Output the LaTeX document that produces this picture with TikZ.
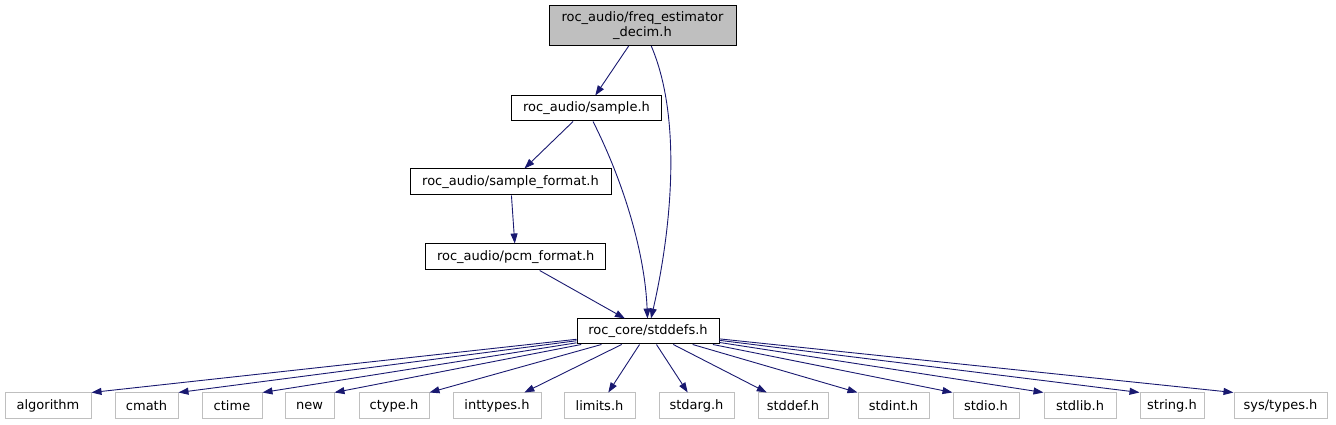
\documentclass[tikz,border=0pt]{standalone}
\usepackage{fontspec}
\setmainfont{DejaVu Sans}
\usetikzlibrary{arrows.meta}
\definecolor{edgec}{HTML}{191970}
\definecolor{greyfill}{HTML}{BFBFBF}
\definecolor{greyline}{HTML}{BFBFBF}
\tikzset{
  box/.style={draw=black, line width=1pt, inner sep=0pt, minimum height=25pt, align=center,
    font=\fontsize{13}{15}\selectfont},
  focus/.style={box, fill=greyfill, minimum height=40pt},
  ext/.style={box, draw=greyline, minimum height=26pt},
  dep/.style={draw=edgec, line width=0.9pt, -{Triangle[length=10pt,width=7pt]}},
}
\begin{document}
\begin{tikzpicture}[x=1pt,y=1pt]
\useasboundingbox (0,0) rectangle (1336,425);
\node[focus, minimum width=187pt] (freq) at (642.5,399.5) {roc\_audio/freq\_estimator\\\_decim.h};
\node[box, minimum width=150pt] (sample) at (586.5,316.5) {roc\_audio/sample.h};
\node[box, minimum width=201pt, minimum height=26pt] (sfmt) at (510.5,243) {roc\_audio/sample\_format.h};
\node[box, minimum width=180pt, minimum height=26pt] (pcm) at (515.7,168) {roc\_audio/pcm\_format.h};
\node[box, minimum width=142pt] (std) at (648,93.5) {roc\_core/stddefs.h};

\node[ext, minimum width=86pt] (alg) at (48,19) {algorithm};
\node[ext, minimum width=63pt] (cmath) at (146.5,19) {cmath};
\node[ext, minimum width=60pt] (ctime) at (232,19) {ctime};
\node[ext, minimum width=49pt] (new) at (309.5,19) {new};
\node[ext, minimum width=70pt] (ctype) at (394,19) {ctype.h};
\node[ext, minimum width=88pt] (inttypes) at (497,19) {inttypes.h};
\node[ext, minimum width=71pt] (limits) at (599.5,19) {limits.h};
\node[ext, minimum width=75pt] (stdarg) at (696.5,19) {stdarg.h};
\node[ext, minimum width=70pt] (stddef) at (793,19) {stddef.h};
\node[ext, minimum width=71pt] (stdint) at (893.5,19) {stdint.h};
\node[ext, minimum width=66pt] (stdio) at (986,19) {stdio.h};
\node[ext, minimum width=72pt] (stdlib) at (1080,19) {stdlib.h};
\node[ext, minimum width=64pt] (string) at (1172,19) {string.h};
\node[ext, minimum width=93pt] (systypes) at (1280.5,19) {sys/types.h};

\draw[dep] (freq) -- (sample);
\draw[dep] (freq) .. controls (685,300) and (668,180) .. (std);
\draw[dep] (sample) -- (sfmt);
\draw[dep] (sample) .. controls (625,240) and (645,170) .. (std);
\draw[dep] (sfmt) -- (pcm);
\draw[dep] (pcm) -- (std);
\foreach \t in {alg,cmath,ctime,new,ctype}
  \draw[dep] (std) -- (\t.north east);
\foreach \t in {inttypes,limits,stdarg,stddef}
  \draw[dep] (std) -- (\t);
\foreach \t in {stdint,stdio,stdlib,string,systypes}
  \draw[dep] (std) -- (\t.north west);
\end{tikzpicture}
\end{document}
